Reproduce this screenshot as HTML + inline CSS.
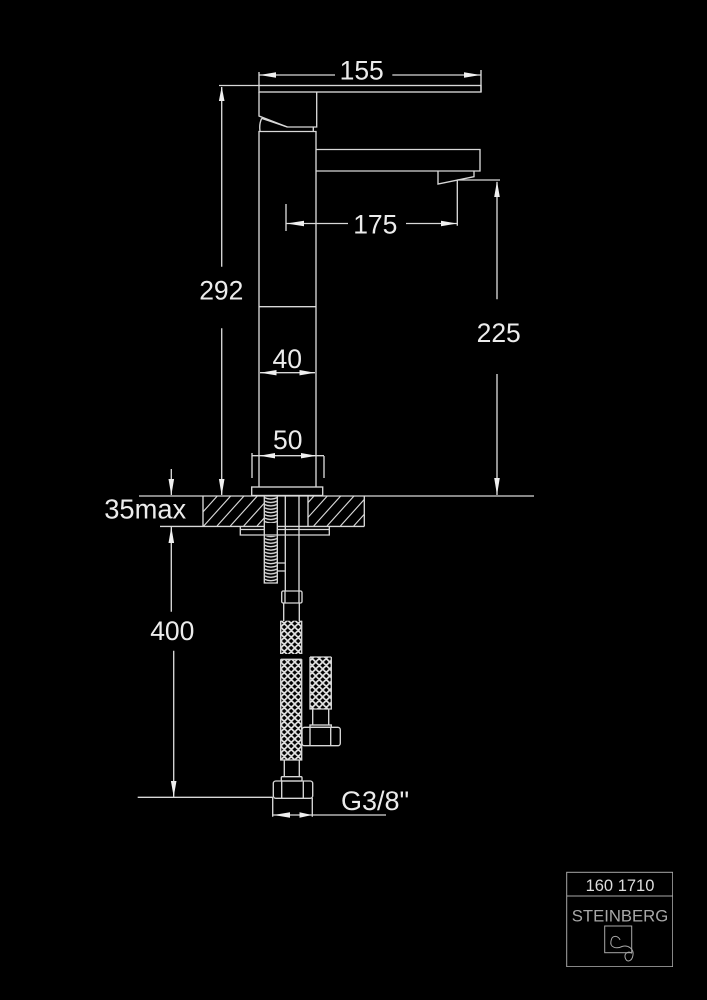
<!DOCTYPE html>
<html><head><meta charset="utf-8"><style>
html,body{margin:0;padding:0;background:#000;width:707px;height:1000px;overflow:hidden}
svg{display:block}
text{font-family:"Liberation Sans",sans-serif;fill:#ececec;font-size:26.5px;text-anchor:middle}
</style></head><body>
<svg width="707" height="1000" viewBox="0 0 707 1000" xmlns="http://www.w3.org/2000/svg">
<defs>
<filter id="soft" x="0" y="0" width="100%" height="100%"><feGaussianBlur stdDeviation="0.35"/></filter>
<pattern id="braid" width="7" height="7" patternUnits="userSpaceOnUse" x="280.7" y="620">
<path d="M-1 -1L8 8M-1 6L1 8M6 -1L8 1M8 -1L-1 8M1 -1L-1 1M8 6L6 8" stroke="#e2e2e2" stroke-width="1.7" fill="none"/>
</pattern>
<pattern id="thread" width="13" height="3.4" patternUnits="userSpaceOnUse" x="264.3" y="497">
<path d="M0 0.6Q6.5 3.6 13 0.6" stroke="#e0e0e0" stroke-width="1.4" fill="none"/>
</pattern>
<clipPath id="cl"><rect x="203" y="496" width="61" height="30"/></clipPath>
<clipPath id="cr"><rect x="308" y="496" width="56" height="30"/></clipPath>
</defs>
<rect width="707" height="1000" fill="#000"/>
<g filter="url(#soft)">
<g fill="none" stroke="#d8d8d8" stroke-width="1.35">
<!-- faucet -->
<rect x="259" y="85.5" width="222" height="6.5"/>
<polyline points="259,92 259,116 287.3,127 316.7,127 316.7,92"/>
<line x1="261.7" y1="118.3" x2="287.3" y2="127"/>
<path d="M261.7 118.3Q259 124 260 131"/>
<line x1="313.3" y1="127" x2="313.3" y2="131.5"/>
<polyline points="259,487 259,131.5 316,131.5 316,487"/>
<line x1="259" y1="306.7" x2="316" y2="306.7"/>
<polyline points="316,149.5 480,149.5 480,171 316,171"/>
<polyline points="438,171 438,184 474,176.7 474,171"/>
<rect x="251.7" y="487" width="71" height="8.5"/>

<!-- dim 155 -->
<path d="M259 75H335M392.3 75H481M259 72V85.5M481 70V92"/>
<line x1="219" y1="85.5" x2="259" y2="85.5"/>
<!-- dim 292 -->
<path d="M221.7 87V266.7M221.7 328.3V495"/>
<!-- dim 175 -->
<path d="M286 204V231M286 223.5H348M406 223.5H457.3M457.3 180V225.7M457.3 180H500"/>
<!-- dim 225 -->
<path d="M497 182V299.3M497 374V495"/>
<!-- dim 40 / 50 -->
<path d="M260 372.7H315M252 453V478M324 456V478M252 455.7H324"/>
<!-- counter -->
<path d="M139 496H534M160 526.4H364.3M203 496V526.4M364.3 496V526.4M308 496V526.4"/>
<!-- dim 35 / 400 -->
<path d="M171.3 469V495M171.3 527V611.7M173.7 650.7V797M137.7 797.3H273"/>
<!-- hatching -->
<g clip-path="url(#cl)" stroke-width="1.15">
<path d="M217.3 496L190.3 526M230.7 496L203.7 526M244 496L217 526M257.3 496L230.3 526M270.7 496L243.7 526M284 496L257 526"/>
</g>
<g clip-path="url(#cr)" stroke-width="1.15">
<path d="M314 496L287 526M327.3 496L300.3 526M340.7 496L313.7 526M354 496L327 526M367.4 496L340.4 526M380.7 496L353.7 526"/>
</g>
<!-- washer -->
<path d="M240.3 526.4V535H329.3V526.4M240.3 529.5H264M277.3 529.5H329.3"/>
<!-- small nut piece -->
<path d="M277.3 563H285.3M277.3 571H285.3"/>
</g>

<!-- threaded rod -->
<rect x="264.3" y="497" width="13" height="33" fill="#000"/>
<rect x="264.3" y="497" width="13" height="26" fill="url(#thread)"/>
<rect x="264.3" y="536" width="13" height="47" fill="url(#thread)"/>
<path d="M264.3 496V583H277.3V496" fill="none" stroke="#d8d8d8" stroke-width="1.35"/>

<g fill="none" stroke="#d8d8d8" stroke-width="1.35">
<!-- pipes -->
<path d="M285.3 496V591M299 496V591"/>
<rect x="281.7" y="591" width="20.3" height="12" rx="1.5"/>
<path d="M285 591V603M299 591V603"/>
<path d="M283.7 603V621M299.3 603V621"/>
<!-- main braid -->
<rect x="280.7" y="620.7" width="21" height="33.3" fill="url(#braid)" stroke="none"/>
<path d="M280.7 620.7V654M301.7 620.7V654"/>
<rect x="280.7" y="659.3" width="21" height="100.7" fill="url(#braid)" stroke="none"/>
<path d="M280.7 659.3V760H301.7V659.3M280.7 659.3H301.7"/>
<path d="M284.3 760V776.7M299.3 760V776.7"/>
<rect x="281.3" y="776.7" width="20.7" height="4.3" rx="1"/>
<rect x="273.3" y="781" width="39.4" height="17.3" rx="2.5"/>
<path d="M281.7 781V798M303.3 781V798"/>
<!-- second braid -->
<rect x="310" y="657" width="21.3" height="52" fill="url(#braid)" stroke="none"/>
<path d="M310 657V709H331.3V657M310 657H331.3"/>
<path d="M312.7 709V725M328.7 709V725"/>
<rect x="310" y="725" width="21.3" height="2.3"/>
<rect x="302" y="727.3" width="38.3" height="18.4" rx="2.5"/>
<path d="M310 727.3V745.7M330.7 727.3V745.7"/>
<!-- G3/8 dim -->
<path d="M272.7 798V816.7M312.3 798V816.7M312 815H386M273 815H312"/>
</g>

<!-- arrowheads -->
<g fill="#f0f0f0" stroke="none">
<polygon points="259.5,75 276,72.2 276,77.8"/>
<polygon points="480.5,75 464,72.2 464,77.8"/>
<polygon points="221.7,86.5 218.9,101 224.5,101"/>
<polygon points="221.7,495.5 218.9,479 224.5,479"/>
<polygon points="286.5,223.5 304,220.8 304,226.2"/>
<polygon points="457,223.5 441,220.8 441,226.2"/>
<polygon points="497,181 494.2,197 499.8,197"/>
<polygon points="497,495 494.2,478 499.8,478"/>
<polygon points="260,372.7 276.5,370 276.5,375.4"/>
<polygon points="315,372.7 299.5,370 299.5,375.4"/>
<polygon points="259.5,455.7 275,453 275,458.4"/>
<polygon points="316.5,455.7 301,453 301,458.4"/>
<polygon points="171.3,495.5 168.5,479 174.1,479"/>
<polygon points="171.3,527 168.5,543 174.1,543"/>
<polygon points="173.7,796.7 170.9,781 176.5,781"/>
<polygon points="273.5,815 290,812.3 290,817.7"/>
<polygon points="312,815 299.5,812.3 299.5,817.7"/>
</g>

<!-- labels -->
<text x="361.7" y="79.3">155</text>
<text x="375.3" y="233.3">175</text>
<text x="221.3" y="299.3">292</text>
<text x="498.7" y="342">225</text>
<text x="287.3" y="367.8">40</text>
<text x="287.7" y="449">50</text>
<text x="145.2" y="518.5" style="font-size:27.3px">35max</text>
<text x="172.3" y="640">400</text>
<text x="375" y="810" style="font-size:27px">G3/8"</text>

<!-- logo block -->
<g fill="none" stroke="#a8a8a8" stroke-width="1">
<rect x="566.7" y="872.3" width="106" height="94.4"/>
<line x1="566.7" y1="896" x2="672.7" y2="896"/>
<rect x="604.7" y="926" width="27" height="26.7"/>
<path d="M620 940C619 936 612 934 611 941C609.500 948 617 949 622 946.500C628 944.500 634 949 633 955C632 962 626 963 625 957C624.500 952 630 951 631.700 953.500"/>
</g>
<text x="620" y="891" style="font-size:16.5px;fill:#ddd">160 1710</text>
<text x="620" y="921.700" style="font-size:16.7px;fill:#a8a8a8">STEINBERG</text>
</g>
</svg>
</body></html>
